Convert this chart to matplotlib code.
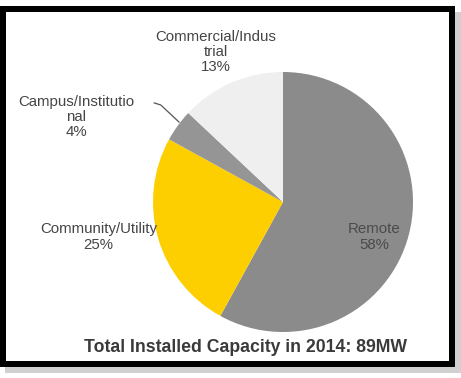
import matplotlib
matplotlib.use("Agg")
import matplotlib.pyplot as plt
from matplotlib.patches import Rectangle

plt.rcParams["font.family"] = ["Liberation Sans", "DejaVu Sans"]

# ─── 数据 ───────────────────────────────────────────────────────────
labels = ["Remote", "Community/Utility", "Campus/Institutio\nnal", "Commercial/Indus\ntrial"]
shares = [58, 25, 4, 13]
colors = ["#8b8b8b", "#fdcf00", "#959595", "#efefef"]
title = "Total Installed Capacity in 2014: 89MW"

# label positions (pie radius = 1)
label_pos = [(0.70, -0.27), (-1.42, -0.27), (-1.59, 0.655), (-0.515, 1.155)]
label_colors = ["#4a4a4a", "#454545", "#454545", "#454545"]

W, H = 461, 378
fig = plt.figure(figsize=(W / 100, H / 100), dpi=100)
fig.patch.set_facecolor("white")

# ─── 外框 + 阴影 ─────────────────────────────────────────────────────
def px_rect(x0, y0, x1, y1, color, z):
    fig.patches.append(Rectangle((x0 / W, 1 - y1 / H), (x1 - x0) / W, (y1 - y0) / H,
                                 transform=fig.transFigure, facecolor=color,
                                 edgecolor="none", zorder=z))

px_rect(5, 12, 461, 373, "#d0d0d0", 0)
px_rect(0, 6, 455, 367, "black", 1)
px_rect(6, 12, 449, 361, "white", 2)

# ─── 饼图 ───────────────────────────────────────────────────────────
cx, cy, r = 283, 202, 130
ax = fig.add_axes([(cx - r) / W, (H - cy - r) / H, 2 * r / W, 2 * r / H])
ax.set_zorder(5)
ax.pie(shares, colors=colors, startangle=90, counterclock=False,
       wedgeprops=dict(linewidth=0))
ax.set_xlim(-1, 1)
ax.set_ylim(-1, 1)
ax.set_aspect("equal")
ax.axis("off")

for lab, s, (x, y), c in zip(labels, shares, label_pos, label_colors):
    ax.text(x, y, f"{lab}\n{s}%", ha="center", va="center", fontsize=10.8,
            color=c, linespacing=1.12, clip_on=False)

# leader line for the small slice
ax.plot([-0.99, -0.94, -0.80], [0.762, 0.746, 0.615], color="#555555", lw=0.9,
        clip_on=False)

fig.text(246 / W, 1 - 348 / H, title, ha="center", va="center", fontsize=12.7,
         fontweight="bold", color="#3a3a3a", zorder=6)

fig.savefig("out.png", dpi=100)
